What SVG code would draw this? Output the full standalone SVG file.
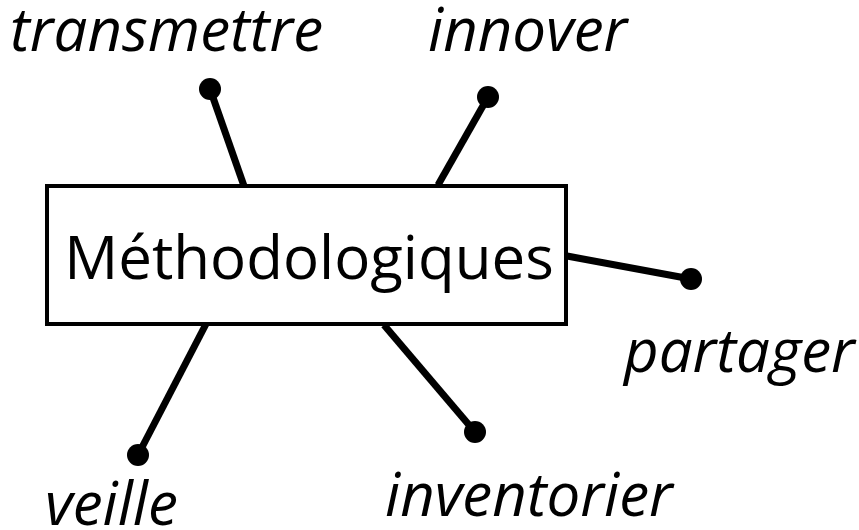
<svg xmlns="http://www.w3.org/2000/svg" width="859" height="530" viewBox="0 0 859 530">
<style>
.lbl{font-family:"Open Sans","Noto Sans",sans-serif;font-style:italic;font-size:60px;fill:#000}
.main{font-family:"Open Sans","Noto Sans",sans-serif;font-size:60px;fill:#000}
.c{stroke:#000;stroke-width:7;fill:none}
.d{fill:#000}
</style>
<rect width="859" height="530" fill="#fff"/>
<g id="connectors">
<line class="c" x1="244" y1="186" x2="210" y2="89"/>
<circle class="d" cx="210" cy="89" r="11"/>
<line class="c" x1="438" y1="185" x2="488" y2="97"/>
<circle class="d" cx="488" cy="97" r="11"/>
<line class="c" x1="567" y1="256" x2="691" y2="279"/>
<circle class="d" cx="691" cy="279" r="11"/>
<line class="c" x1="206" y1="324" x2="138" y2="455"/>
<circle class="d" cx="138" cy="455" r="11"/>
<line class="c" x1="384" y1="325" x2="475" y2="432"/>
<circle class="d" cx="475" cy="432" r="11"/>
</g>
<g id="main">
<rect x="47" y="186" width="519" height="138" fill="#fff" stroke="#000" stroke-width="4"/>
<text class="main" x="309" y="279" text-anchor="middle">Méthodologiques</text>
</g>
<g id="transmettre"><text class="lbl" x="10" y="51">transmettre</text></g>
<g id="innover"><text class="lbl" x="428" y="51">innover</text></g>
<g id="partager"><text class="lbl" x="624" y="372">partager</text></g>
<g id="veille"><text class="lbl" x="45" y="525">veille</text></g>
<g id="inventorier"><text class="lbl" x="385" y="516">inventorier</text></g>
</svg>
